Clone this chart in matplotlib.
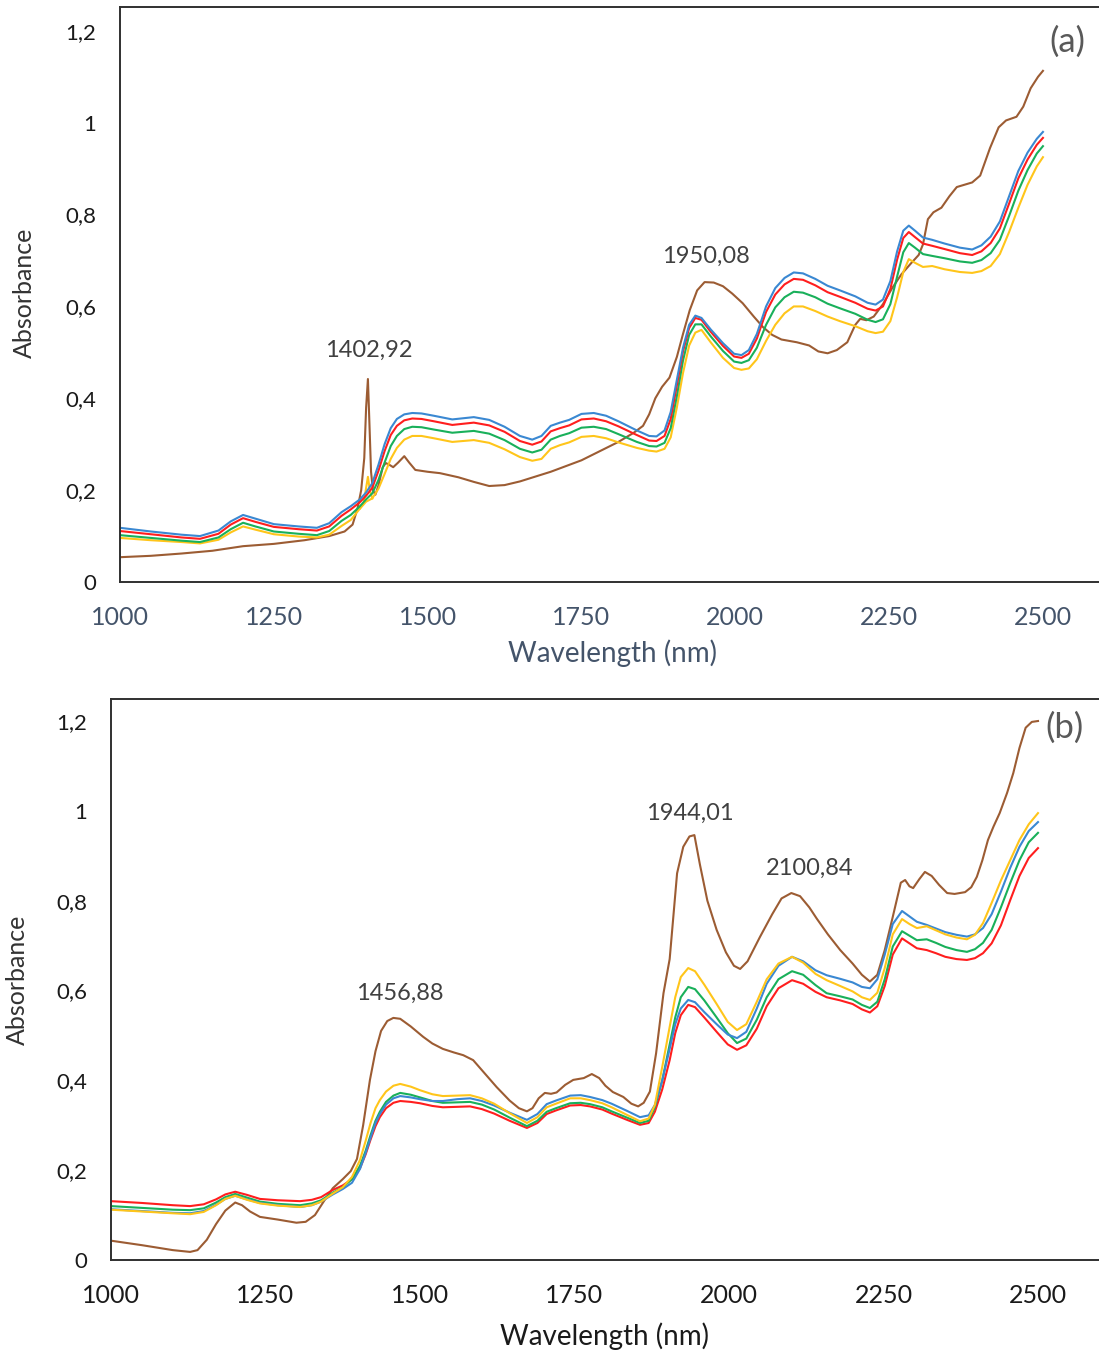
import matplotlib
matplotlib.use("Agg")
import matplotlib.pyplot as plt
from matplotlib.ticker import FuncFormatter

plt.rcParams['font.family'] = ['Lato', 'DejaVu Sans']

# ---------------- Panel (a) spectra ----------------
wl_a = [1000, 1050, 1100, 1130, 1160, 1180, 1200, 1220, 1250, 1290, 1320, 1340, 1360, 1375, 1390,
        1400, 1410, 1420, 1430, 1440, 1450, 1462, 1475, 1490, 1510, 1540, 1575, 1600, 1625, 1650,
        1670, 1685, 1700, 1715, 1730, 1750, 1770, 1790, 1810, 1840, 1860, 1872, 1885, 1895, 1905,
        1915, 1925, 1935, 1945, 1960, 1980, 1998, 2010, 2022, 2035, 2050, 2065, 2080, 2095, 2110,
        2130, 2150, 2170, 2195, 2215, 2228, 2240, 2252, 2263, 2273, 2282, 2292, 2305, 2320, 2340,
        2365, 2385, 2400, 2415, 2430, 2445, 2460, 2475, 2490, 2500]
blue_a = [0.118, 0.110, 0.103, 0.100, 0.112, 0.132, 0.146, 0.138, 0.126, 0.121, 0.118, 0.128, 0.152, 0.165, 0.180,
          0.195, 0.215, 0.255, 0.300, 0.335, 0.355, 0.365, 0.368, 0.367, 0.362, 0.354, 0.359, 0.353, 0.338, 0.318,
          0.310, 0.318, 0.340, 0.347, 0.353, 0.366, 0.368, 0.362, 0.350, 0.330, 0.318, 0.317, 0.330, 0.370, 0.440,
          0.510, 0.560, 0.580, 0.575, 0.550, 0.520, 0.497, 0.494, 0.505, 0.540, 0.600, 0.640, 0.662, 0.674, 0.672,
          0.660, 0.645, 0.635, 0.622, 0.608, 0.604, 0.615, 0.655, 0.720, 0.765, 0.776, 0.765, 0.750, 0.745, 0.737,
          0.728, 0.724, 0.733, 0.752, 0.785, 0.840, 0.895, 0.935, 0.965, 0.980]
red_a = [0.111, 0.104, 0.097, 0.094, 0.105, 0.125, 0.139, 0.131, 0.120, 0.115, 0.112, 0.121, 0.144, 0.158, 0.174,
         0.188, 0.205, 0.242, 0.285, 0.320, 0.340, 0.352, 0.356, 0.355, 0.350, 0.342, 0.347, 0.341, 0.327, 0.307,
         0.299, 0.306, 0.328, 0.335, 0.341, 0.354, 0.356, 0.350, 0.339, 0.320, 0.308, 0.307, 0.318, 0.355, 0.428,
         0.502, 0.553, 0.575, 0.571, 0.545, 0.514, 0.491, 0.488, 0.497, 0.530, 0.588, 0.626, 0.648, 0.660, 0.658,
         0.646, 0.631, 0.621, 0.608, 0.595, 0.591, 0.600, 0.638, 0.702, 0.749, 0.762, 0.751, 0.737, 0.732, 0.725,
         0.716, 0.712, 0.720, 0.738, 0.770, 0.824, 0.879, 0.920, 0.952, 0.967]
green_a = [0.102, 0.096, 0.090, 0.087, 0.097, 0.115, 0.129, 0.121, 0.110, 0.105, 0.102, 0.111, 0.133, 0.146, 0.165,
           0.180, 0.193, 0.222, 0.260, 0.296, 0.318, 0.333, 0.338, 0.337, 0.332, 0.325, 0.329, 0.323, 0.309, 0.290,
           0.282, 0.288, 0.310, 0.318, 0.324, 0.336, 0.338, 0.333, 0.322, 0.305, 0.296, 0.295, 0.303, 0.335, 0.405,
           0.482, 0.538, 0.561, 0.561, 0.535, 0.503, 0.480, 0.477, 0.483, 0.510, 0.560, 0.598, 0.620, 0.632, 0.630,
           0.620, 0.606, 0.596, 0.584, 0.571, 0.566, 0.572, 0.605, 0.665, 0.718, 0.738, 0.728, 0.714, 0.710, 0.705,
           0.698, 0.695, 0.701, 0.716, 0.745, 0.797, 0.852, 0.897, 0.933, 0.949]
yellow_a = [0.096, 0.091, 0.087, 0.084, 0.092, 0.108, 0.121, 0.114, 0.104, 0.099, 0.097, 0.103, 0.122, 0.135, 0.160,
            0.175, 0.182, 0.203, 0.235, 0.268, 0.292, 0.310, 0.318, 0.318, 0.313, 0.305, 0.309, 0.303, 0.289, 0.272,
            0.264, 0.268, 0.290, 0.298, 0.304, 0.316, 0.318, 0.313, 0.304, 0.292, 0.286, 0.284, 0.290, 0.315, 0.380,
            0.455, 0.515, 0.543, 0.549, 0.522, 0.488, 0.466, 0.462, 0.465, 0.485, 0.525, 0.560, 0.585, 0.600, 0.600,
            0.590, 0.578, 0.568, 0.557, 0.546, 0.542, 0.545, 0.568, 0.620, 0.675, 0.703, 0.695, 0.686, 0.688, 0.681,
            0.675, 0.673, 0.677, 0.688, 0.714, 0.762, 0.815, 0.865, 0.905, 0.925]
# narrow water band recorded on the yellow sample
yellow_a_spike_wl = [1390, 1396, 1400, 1402.92, 1406, 1410]
yellow_a_spike = [0.160, 0.172, 0.205, 0.229, 0.200, 0.182]

wl_a_brown = [1000, 1050, 1100, 1150, 1200, 1250, 1300, 1340, 1365, 1378, 1386, 1392, 1397, 1400, 1402.92,
              1405, 1408, 1411, 1415, 1420, 1427, 1432, 1438, 1444, 1452, 1462, 1470, 1480, 1500, 1520,
              1550, 1575, 1600, 1625, 1650, 1700, 1750, 1780, 1810, 1835, 1850, 1860, 1870, 1881, 1893,
              1905, 1915, 1926, 1938, 1950.08, 1965, 1980, 1995, 2012, 2030, 2045, 2060, 2075, 2100, 2120,
              2135, 2150, 2165, 2182, 2195, 2203, 2213, 2225, 2240, 2255, 2270, 2285, 2298, 2305, 2313,
              2322, 2335, 2348, 2360, 2375, 2385, 2398, 2414, 2428, 2440, 2457, 2468, 2480, 2492, 2500]
brown_a = [0.054, 0.057, 0.062, 0.068, 0.078, 0.083, 0.091, 0.100, 0.110, 0.125, 0.160, 0.200, 0.270, 0.380, 0.442,
           0.360, 0.240, 0.200, 0.190, 0.210, 0.250, 0.259, 0.255, 0.250, 0.260, 0.274, 0.260, 0.244, 0.240, 0.237,
           0.228, 0.218, 0.209, 0.211, 0.219, 0.240, 0.265, 0.285, 0.305, 0.325, 0.340, 0.365, 0.400, 0.425, 0.445,
           0.490, 0.540, 0.592, 0.635, 0.653, 0.652, 0.644, 0.628, 0.607, 0.578, 0.555, 0.538, 0.528, 0.522, 0.515,
           0.502, 0.498, 0.505, 0.522, 0.560, 0.573, 0.570, 0.578, 0.605, 0.640, 0.670, 0.693, 0.712, 0.735, 0.790,
           0.805, 0.815, 0.840, 0.860, 0.866, 0.870, 0.885, 0.945, 0.990, 1.005, 1.013, 1.035, 1.075, 1.100, 1.113]

# ---------------- Panel (b) spectra ----------------
wl_b = [1000, 1050, 1100, 1128, 1150, 1170, 1185, 1201, 1220, 1241, 1270, 1306, 1325, 1340, 1359,
        1375, 1390, 1403, 1412, 1420, 1428, 1435, 1445, 1457, 1468, 1485, 1500, 1520, 1537, 1560,
        1581, 1600, 1620, 1645, 1673, 1690, 1705, 1720, 1743, 1760, 1775, 1795, 1810, 1835, 1856,
        1870, 1880, 1892, 1904, 1913, 1922, 1934, 1945, 1960, 1980, 1998, 2013, 2028, 2045, 2061,
        2080, 2102, 2120, 2140, 2158, 2180, 2200, 2215, 2228, 2240, 2252, 2265, 2280, 2292, 2304,
        2320, 2335, 2350, 2368, 2385, 2398, 2411, 2425, 2440, 2455, 2470, 2485, 2500]
red_b = [0.131, 0.127, 0.122, 0.120, 0.124, 0.135, 0.146, 0.152, 0.145, 0.136, 0.133, 0.131, 0.134, 0.140, 0.156,
         0.166, 0.180, 0.205, 0.235, 0.268, 0.298, 0.318, 0.338, 0.350, 0.354, 0.352, 0.349, 0.343, 0.340, 0.341,
         0.342, 0.336, 0.326, 0.310, 0.294, 0.305, 0.325, 0.333, 0.344, 0.345, 0.342, 0.335, 0.326, 0.312, 0.301,
         0.305, 0.330, 0.380, 0.445, 0.505, 0.545, 0.568, 0.563, 0.540, 0.508, 0.480, 0.468, 0.478, 0.515, 0.565,
         0.605, 0.623, 0.615, 0.597, 0.585, 0.578, 0.570, 0.558, 0.551, 0.565, 0.610, 0.680, 0.716, 0.705, 0.694,
         0.690, 0.683, 0.675, 0.670, 0.668, 0.672, 0.683, 0.705, 0.745, 0.801, 0.855, 0.895, 0.917]
green_b = [0.120, 0.116, 0.112, 0.111, 0.115, 0.128, 0.140, 0.147, 0.139, 0.130, 0.125, 0.122, 0.126, 0.133, 0.150,
           0.162, 0.180, 0.210, 0.243, 0.278, 0.310, 0.330, 0.352, 0.366, 0.372, 0.368, 0.362, 0.354, 0.350, 0.351,
           0.352, 0.346, 0.335, 0.317, 0.298, 0.310, 0.330, 0.338, 0.349, 0.350, 0.347, 0.340, 0.331, 0.317, 0.305,
           0.310, 0.340, 0.400, 0.480, 0.540, 0.585, 0.608, 0.603, 0.578, 0.540, 0.505, 0.483, 0.493, 0.535, 0.585,
           0.625, 0.643, 0.635, 0.612, 0.594, 0.587, 0.580, 0.568, 0.561, 0.575, 0.625, 0.698, 0.732, 0.722, 0.712,
           0.714, 0.706, 0.697, 0.690, 0.686, 0.692, 0.706, 0.735, 0.785, 0.839, 0.890, 0.930, 0.951]
blue_b = [0.113, 0.109, 0.105, 0.104, 0.109, 0.123, 0.136, 0.143, 0.135, 0.127, 0.122, 0.118, 0.122, 0.130, 0.146,
          0.158, 0.172, 0.203, 0.238, 0.272, 0.305, 0.325, 0.346, 0.360, 0.365, 0.362, 0.358, 0.354, 0.354, 0.358,
          0.360, 0.354, 0.344, 0.328, 0.312, 0.325, 0.347, 0.355, 0.366, 0.367, 0.363, 0.356, 0.348, 0.332, 0.318,
          0.322, 0.345, 0.400, 0.470, 0.525, 0.560, 0.579, 0.574, 0.552, 0.525, 0.502, 0.494, 0.508, 0.560, 0.615,
          0.655, 0.675, 0.665, 0.645, 0.634, 0.626, 0.618, 0.608, 0.605, 0.625, 0.680, 0.748, 0.777, 0.765, 0.753,
          0.746, 0.738, 0.730, 0.724, 0.720, 0.725, 0.739, 0.770, 0.820, 0.873, 0.920, 0.955, 0.975]
yellow_b = [0.112, 0.108, 0.104, 0.102, 0.107, 0.122, 0.136, 0.143, 0.134, 0.126, 0.121, 0.118, 0.122, 0.130, 0.148,
            0.162, 0.185, 0.223, 0.265, 0.305, 0.338, 0.356, 0.375, 0.388, 0.392, 0.386, 0.378, 0.369, 0.365, 0.366,
            0.367, 0.360, 0.348, 0.327, 0.305, 0.318, 0.340, 0.348, 0.360, 0.360, 0.356, 0.349, 0.340, 0.323, 0.309,
            0.315, 0.345, 0.430, 0.519, 0.585, 0.630, 0.650, 0.643, 0.613, 0.570, 0.530, 0.512, 0.525, 0.575, 0.625,
            0.660, 0.675, 0.662, 0.637, 0.623, 0.610, 0.598, 0.585, 0.579, 0.595, 0.650, 0.725, 0.759, 0.748, 0.739,
            0.743, 0.734, 0.725, 0.718, 0.714, 0.724, 0.750, 0.795, 0.845, 0.890, 0.935, 0.970, 0.995]

wl_b_brown = [1000, 1050, 1100, 1128, 1140, 1155, 1170, 1185, 1201, 1212, 1225, 1241, 1270, 1300, 1315,
              1330, 1345, 1359, 1375, 1388, 1398, 1408, 1419, 1428, 1437, 1447, 1456.88, 1468, 1485, 1505,
              1520, 1537, 1555, 1570, 1586, 1605, 1624, 1645, 1660, 1673, 1682, 1692, 1702, 1712, 1721,
              1735, 1748, 1765, 1778, 1790, 1800, 1812, 1829, 1842, 1853, 1862, 1872, 1882, 1894, 1904,
              1916, 1926, 1936, 1944.01, 1953, 1965, 1980, 1995, 2008, 2018, 2030, 2050, 2070, 2085, 2100.84,
              2115, 2130, 2142, 2160, 2180, 2200, 2215, 2228, 2240, 2252, 2265, 2278, 2285, 2292, 2298,
              2308, 2317, 2328, 2340, 2353, 2365, 2382, 2392, 2401, 2410, 2419, 2428, 2438, 2450, 2460,
              2470, 2480, 2490, 2500]
brown_b = [0.043, 0.033, 0.022, 0.018, 0.022, 0.045, 0.080, 0.110, 0.128, 0.122, 0.108, 0.096, 0.090, 0.083, 0.085,
           0.100, 0.132, 0.160, 0.180, 0.198, 0.225, 0.300, 0.401, 0.465, 0.510, 0.532, 0.539, 0.537, 0.520, 0.497,
           0.482, 0.470, 0.462, 0.456, 0.445, 0.415, 0.385, 0.355, 0.338, 0.331, 0.338, 0.360, 0.372, 0.370, 0.373,
           0.390, 0.401, 0.405, 0.414, 0.405, 0.388, 0.374, 0.363, 0.348, 0.342, 0.350, 0.375, 0.460, 0.594, 0.670,
           0.861, 0.920, 0.943, 0.946, 0.880, 0.800, 0.735, 0.685, 0.655, 0.648, 0.665, 0.719, 0.770, 0.805, 0.817,
           0.810, 0.785, 0.760, 0.725, 0.690, 0.660, 0.635, 0.620, 0.635, 0.690, 0.764, 0.840, 0.846, 0.832, 0.828,
           0.848, 0.864, 0.855, 0.835, 0.817, 0.815, 0.819, 0.830, 0.853, 0.890, 0.935, 0.965, 0.995, 1.040, 1.084,
           1.140, 1.185, 1.198, 1.200]

x_ticks = [1000, 1250, 1500, 1750, 2000, 2250, 2500]
y_ticks = [0, 0.2, 0.4, 0.6, 0.8, 1.0, 1.2]

C_BLUE = '#3A88D2'
C_RED = '#FF1E1E'
C_GREEN = '#19B05A'
C_YELLOW = '#FFC51A'
C_BROWN = '#9C5C33'
LW = 1.5

W, H = 1099, 1355
fig = plt.figure(figsize=(W / 100, H / 100), dpi=100)


def comma_fmt(v, pos):
    if abs(v - round(v)) < 1e-9:
        return f"{int(round(v))}"
    return f"{v:.1f}".replace('.', ',')


def frame(ax, xmax, ymax, xtick_color):
    ax.set_xlim(1000, xmax)
    ax.set_ylim(0, ymax)
    ax.set_xticks(x_ticks)
    ax.set_yticks(y_ticks)
    ax.yaxis.set_major_formatter(FuncFormatter(comma_fmt))
    ax.tick_params(axis='both', length=0)
    ax.tick_params(axis='x', pad=17, labelsize=18, labelcolor=xtick_color)
    ax.tick_params(axis='y', pad=17, labelsize=16, labelcolor='#1a1a1a')
    for s in ('left', 'bottom', 'top'):
        ax.spines[s].set_color('#303030')
        ax.spines[s].set_linewidth(1.4)
    ax.spines['right'].set_visible(False)


ann = dict(ha='center', va='center', fontsize=17, color='#404040')

# Panel (a)
ax1 = fig.add_axes([120 / W, 1 - 582 / H, (W - 120) / W, (582 - 7) / H])
ax1.plot(wl_a_brown, brown_a, color=C_BROWN, lw=LW)
ax1.plot(wl_a, yellow_a, color=C_YELLOW, lw=LW)
ax1.plot(yellow_a_spike_wl, yellow_a_spike, color=C_YELLOW, lw=LW)
ax1.plot(wl_a, green_a, color=C_GREEN, lw=LW)
ax1.plot(wl_a, red_a, color=C_RED, lw=LW)
ax1.plot(wl_a, blue_a, color=C_BLUE, lw=LW)
frame(ax1, 1000 + (W - 120) / 0.6153, 1.252, '#44546A')
ax1.text(1404.7, 0.505, '1402,92', **ann)
ax1.text(1952.4, 0.708, '1950,08', **ann)
ax1.text(2540, 1.176, '(a)', ha='center', va='center', fontsize=25, color='#595959')
fig.text(612 / W, 1 - 653 / H, 'Wavelength (nm)', ha='center', va='center', fontsize=20, color='#44546A')
fig.text(24 / W, 1 - 293 / H, 'Absorbance', ha='center', va='center', rotation=90, fontsize=18, color='#333333')

# Panel (b)
ax2 = fig.add_axes([111 / W, 1 - 1260 / H, (W - 111) / W, (1260 - 699) / H])
ax2.plot(wl_b_brown, brown_b, color=C_BROWN, lw=LW)
ax2.plot(wl_b, red_b, color=C_RED, lw=LW)
ax2.plot(wl_b, green_b, color=C_GREEN, lw=LW)
ax2.plot(wl_b, blue_b, color=C_BLUE, lw=LW)
ax2.plot(wl_b, yellow_b, color=C_YELLOW, lw=LW)
frame(ax2, 1000 + (W - 111) / 0.618, 1.249, '#1a1a1a')
ax2.text(1467.6, 0.594, '1456,88', **ann)
ax2.text(1936.9, 0.995, '1944,01', **ann)
ax2.text(2131, 0.873, '2100,84', **ann)
ax2.text(2543, 1.184, '(b)', ha='center', va='center', fontsize=25, color='#595959')
fig.text(605 / W, 1 - 1336 / H, 'Wavelength (nm)', ha='center', va='center', fontsize=20, color='#1a1a1a')
fig.text(17 / W, 1 - 980 / H, 'Absorbance', ha='center', va='center', rotation=90, fontsize=18, color='#333333')

fig.savefig('out.png', dpi=100)
